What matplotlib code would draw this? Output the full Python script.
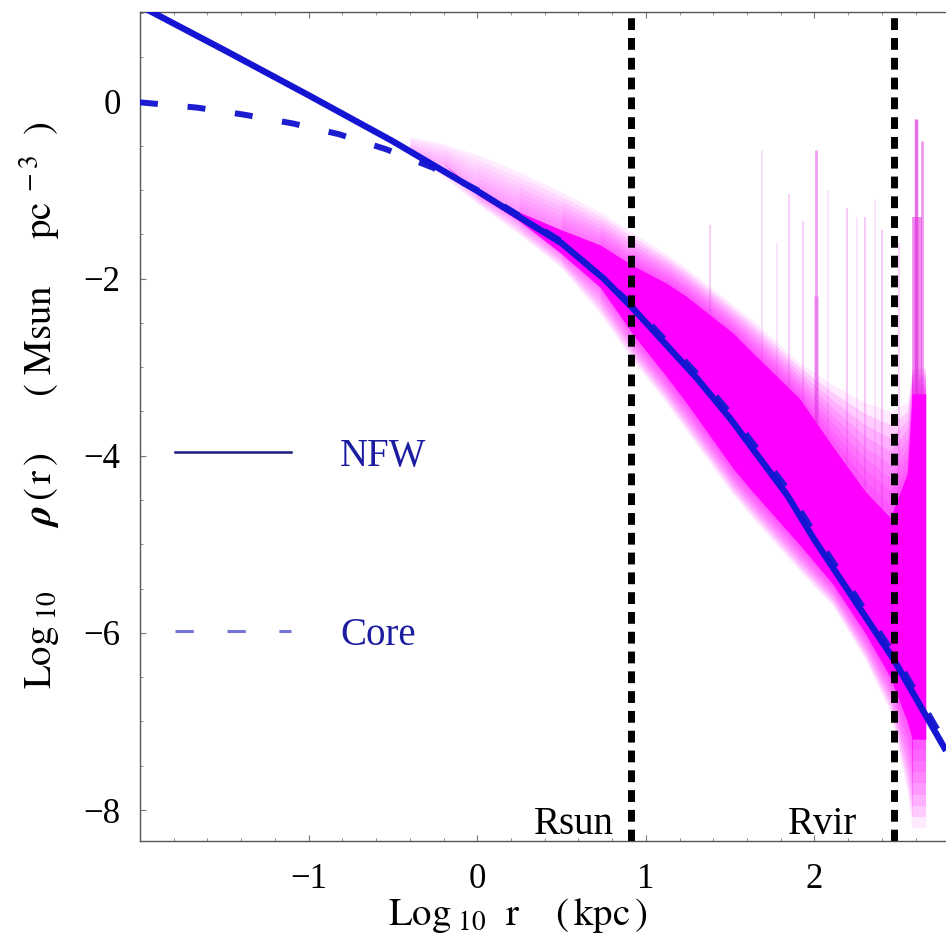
import numpy as np
import matplotlib
matplotlib.use("Agg")
import matplotlib.pyplot as plt
from matplotlib.lines import Line2D
from matplotlib.ticker import MultipleLocator

plt.rcParams['font.family'] = ['Liberation Serif', 'DejaVu Serif']
plt.rcParams['mathtext.fontset'] = 'stix'

# --- curves (log10 r [kpc], log10 rho [Msun pc^-3]) ---
nfw_x = [-2.00, -1.50, -1.00, -0.50, 0.00, 0.50, 0.75, 0.92, 1.30, 1.50, 1.84, 2.00, 2.47, 2.78]
nfw_y = [1.08, 0.58, 0.07, -0.45, -1.01, -1.60, -2.00, -2.33, -3.12, -3.58, -4.45, -4.95, -6.30, -7.33]

core_x = [-2.00, -1.66, -1.38, -1.09, -0.82, -0.54, -0.26, 0.00, 0.50, 0.92, 1.30, 1.50, 1.84, 2.00, 2.47, 2.78]
core_y = [-0.01, -0.07, -0.15, -0.25, -0.37, -0.54, -0.75, -1.00, -1.58, -2.30, -3.07, -3.52, -4.38, -4.88, -6.24, -7.26]

# particle cloud envelopes (outer faint edge and dense core)
band_x = [-0.40, -0.20, 0.00, 0.25, 0.50, 0.73, 0.92, 1.12, 1.24, 1.52, 1.64, 1.91, 2.11, 2.30, 2.45, 2.55, 2.58, 2.66]
faint_top = [-0.40, -0.48, -0.60, -0.80, -1.02, -1.25, -1.48, -1.72, -1.88, -2.30, -2.48, -2.95, -3.20, -3.40, -3.50, -3.40, -3.00, -3.00]
dense_top = [-0.55, -0.70, -1.02, -1.25, -1.45, -1.62, -1.85, -2.05, -2.20, -2.62, -2.85, -3.35, -3.90, -4.40, -4.70, -4.20, -3.30, -3.30]
dense_bot = [-0.55, -0.70, -1.05, -1.35, -1.72, -2.10, -2.62, -3.10, -3.40, -4.15, -4.42, -5.00, -5.45, -6.00, -6.50, -7.00, -7.20, -7.20]
faint_bot = [-0.60, -0.85, -1.15, -1.50, -1.88, -2.40, -2.92, -3.40, -3.72, -4.45, -4.72, -5.30, -5.70, -6.30, -6.90, -7.80, -8.20, -8.20]
# strength of the edge shading on each stretch between band_x points
seg_alpha = [0.035, 0.045, 0.055, 0.07, 0.09, 0.11, 0.125, 0.13, 0.13,
             0.13, 0.13, 0.13, 0.13, 0.13, 0.13, 0.13, 0.13]

# subhalo streaks: position, top, opacity, width
streak_x = [1.38, 1.69, 1.78, 1.85, 1.93, 2.01, 2.01, 2.08, 2.19, 2.25, 2.30, 2.36, 2.40, 2.50, 2.60, 2.61, 2.64]
streak_top = [-1.40, -0.55, -1.60, -1.05, -1.35, -0.55, -2.20, -1.00, -1.20, -1.30, -1.30, -1.10, -1.45, -1.60, -0.20, -1.30, -0.45]
streak_alpha = [0.22, 0.18, 0.15, 0.22, 0.22, 0.45, 0.30, 0.15, 0.25, 0.15, 0.25, 0.15, 0.25, 0.20, 0.70, 0.55, 0.50]
streak_width = [1.5, 1.2, 1.2, 1.5, 1.5, 2.0, 3.5, 1.2, 1.5, 1.2, 1.5, 1.2, 1.5, 1.5, 2.5, 7.0, 2.0]

r_marks = [0.91, 2.47]
r_names = ["Rsun", "Rvir"]
r_name_x = [0.81, 2.25]

x_ticks = [-1, 0, 1, 2]
x_ticklabels = ["\u22121", "0", "1", "2"]
y_ticks = [0, -2, -4, -6, -8]
y_ticklabels = ["0", "\u22122", "\u22124", "\u22126", "\u22128"]

fig = plt.figure(figsize=(9.46, 9.52), dpi=100)
ax = fig.add_axes([140 / 946, 111 / 952, 806 / 946, 829 / 952])

# cloud: faint halo, graded edges, dense core
bx = np.array(band_x)
ft, fb = np.array(faint_top), np.array(faint_bot)
dt, db = np.array(dense_top), np.array(dense_bot)
ax.fill_between(bx, fb, ft, color='#ffeaff', lw=0, zorder=1)
n_steps = 8
for i, sa in enumerate(seg_alpha):
    sl = slice(i, i + 2)
    for k in range(1, n_steps + 1):
        f = k / n_steps
        ax.fill_between(bx[sl], (fb + (db - fb) * f)[sl], (ft + (dt - ft) * f)[sl],
                        color='#ff00ff', alpha=sa, lw=0, zorder=1.2)
for sx, st, sa, sw in zip(streak_x, streak_top, streak_alpha, streak_width):
    sb = np.interp(sx, bx, dt)
    ax.vlines(sx, sb, st, color='#e030e0', alpha=sa, lw=sw, zorder=1.5)
ax.fill_between(bx, db, dt, color='#ff00ff', lw=0, zorder=2)

ax.plot(core_x, core_y, color='#1c1cd0', lw=4.3, dashes=(3.0, 5.0),
        dash_capstyle='butt', zorder=4)
ax.plot(nfw_x, nfw_y, color='#1414d2', lw=4.6, solid_capstyle='butt', zorder=5)

for xr, name, xn in zip(r_marks, r_names, r_name_x):
    ax.axvline(xr, color='black', lw=5, dashes=(1.7, 1.15), zorder=6)
    ax.text(xn, -8.27, name, ha='right', va='baseline', fontsize=28, zorder=7)

ax.set_xlim(-2.0, 2.78)
ax.set_ylim(-8.35, 1.01)
ax.set_xticks(x_ticks)
ax.set_xticklabels(x_ticklabels)
ax.set_yticks(y_ticks)
ax.set_yticklabels(y_ticklabels)
ax.xaxis.set_minor_locator(MultipleLocator(0.2))
ax.yaxis.set_minor_locator(MultipleLocator(0.5))
ax.tick_params(which='both', direction='in', top=True, right=False,
               color='#777777', labelsize=25)
ax.tick_params(which='major', length=4, width=0.8)
ax.tick_params(which='minor', length=2.5, width=0.6)
ax.tick_params(axis='x', pad=16)
ax.tick_params(axis='y', pad=14)
for s in ['left', 'bottom', 'top']:
    ax.spines[s].set_color('#555555')
    ax.spines[s].set_linewidth(1.0)
ax.spines['right'].set_visible(False)

ax.set_xlabel(r'$\mathrm{Log}_{\ 10}\ \ \mathrm{r}\ \ \ \ (\,\mathrm{kpc}\,)$', fontsize=28)
ax.xaxis.set_label_coords(0.468, -0.066)
ax.set_ylabel(r'$\mathrm{Log}_{\ 10}\quad\quad\ \boldsymbol{\rho}\,(\,\mathrm{r}\,)'
              r'\quad\ \ \ (\ \mathrm{Msun}\ \ \ \ \ \mathrm{pc}^{\ -3}\ \ )$',
              fontsize=28)
ax.yaxis.set_label_coords(-0.097, 0.526)

handles = [Line2D([], [], color='#1a1a80', lw=1.8),
           Line2D([], [], color='#7474da', lw=2.2, dashes=(6.0, 11.0))]
ax.legend(handles, ['NFW', 'Core'], loc='center left', bbox_to_anchor=(0.043, 0.356),
          frameon=False, handlelength=3.0, handletextpad=1.25, labelspacing=3.65,
          borderpad=0, borderaxespad=0, labelcolor='#1c1ca0', fontsize=28)

fig.savefig('out.png', dpi=100)
